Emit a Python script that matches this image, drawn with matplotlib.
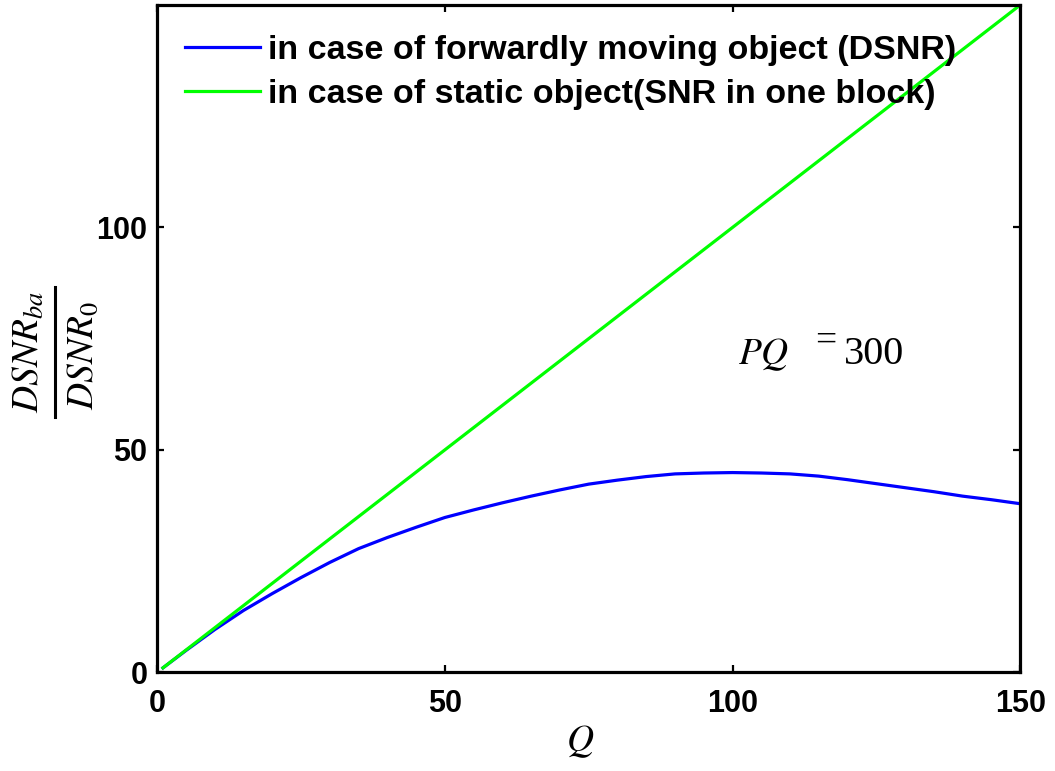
import matplotlib
matplotlib.use("Agg")
import matplotlib.pyplot as plt
from matplotlib.lines import Line2D

# ---------------- data
Q = [1, 5, 10, 15, 20, 25, 30, 35, 40, 45, 50, 55, 60, 65, 70, 75,
     80, 85, 90, 95, 100, 105, 110, 115, 120, 125, 130, 135, 140, 145, 150]
dsnr_moving = [1.0, 4.9, 9.6, 13.9, 17.7, 21.3, 24.7, 27.8, 30.3, 32.6, 34.8,
               36.5, 38.1, 39.6, 41.0, 42.3, 43.2, 44.0, 44.6, 44.8, 44.9,
               44.8, 44.6, 44.1, 43.3, 42.4, 41.5, 40.6, 39.6, 38.8, 37.9]
snr_static = [1, 5, 10, 15, 20, 25, 30, 35, 40, 45, 50, 55, 60, 65, 70, 75,
              80, 85, 90, 95, 100, 105, 110, 115, 120, 125, 130, 135, 140, 145, 150]

labels = ["in case of forwardly moving object (DSNR)",
          "in case of static object(SNR in one block)"]
xticks = [0, 50, 100, 150]
yticks = [0, 50, 100]

plt.rcParams['mathtext.fontset'] = 'stix'
plt.rcParams['font.family'] = ['Liberation Sans', 'DejaVu Sans']

W, H = 1055, 771
fig = plt.figure(figsize=(W / 100, H / 100), dpi=100)
ax = fig.add_axes([0.149, 0.128, 0.818, 0.8655])

ax.plot(Q, dsnr_moving, color=(0, 0, 1), lw=2.3, label=labels[0])
ax.plot(Q, snr_static, color=(0, 1, 0), lw=2.3, label=labels[1])

ax.set_xlim(0, 150)
ax.set_ylim(0, 150)
ax.set_xticks(xticks)
ax.set_yticks(yticks)
for sp in ax.spines.values():
    sp.set_linewidth(2.3)
ax.tick_params(direction='in', length=5, width=1.6, top=True, right=True,
               labelsize=22)
ax.tick_params(axis='x', pad=12)
ax.tick_params(axis='y', pad=7)
for t in ax.get_xticklabels() + ax.get_yticklabels():
    t.set_fontweight('bold')

ax.set_xlabel(r'$Q$', fontsize=27)
ax.xaxis.set_label_coords(0.49, -0.076)

# y label drawn as a fraction: numerator, bar, denominator
fig.text(29 / W, 1 - 352 / H, r'$DSNR_{ba}$', fontsize=27, rotation=90,
         ha='center', va='center')
fig.text(83 / W, 1 - 356 / H, r'$DSNR_0$', fontsize=27, rotation=90,
         ha='center', va='center')
fig.add_artist(Line2D([55 / W, 55 / W], [1 - 287 / H, 1 - 417 / H],
                      transform=fig.transFigure, color='black', lw=2.2))

# PQ = 300 annotation
ax.text(101, 69.3, r'$PQ$', fontsize=27, va='baseline', ha='left')
ax.text(114.4, 72.3, '=', family='Liberation Serif', fontsize=27,
        va='baseline', ha='left')
ax.text(119.4, 69.3, '300', family='Liberation Serif', fontsize=29,
        va='baseline', ha='left')

leg = ax.legend(loc='upper left', bbox_to_anchor=(0.032, 0.955), frameon=False,
                prop={'weight': 'bold', 'size': 24.5, 'family': 'Liberation Sans'},
                handlelength=2.2, handletextpad=0.25, labelspacing=0.39,
                borderpad=0, borderaxespad=0)

fig.savefig("out.png", dpi=100)
